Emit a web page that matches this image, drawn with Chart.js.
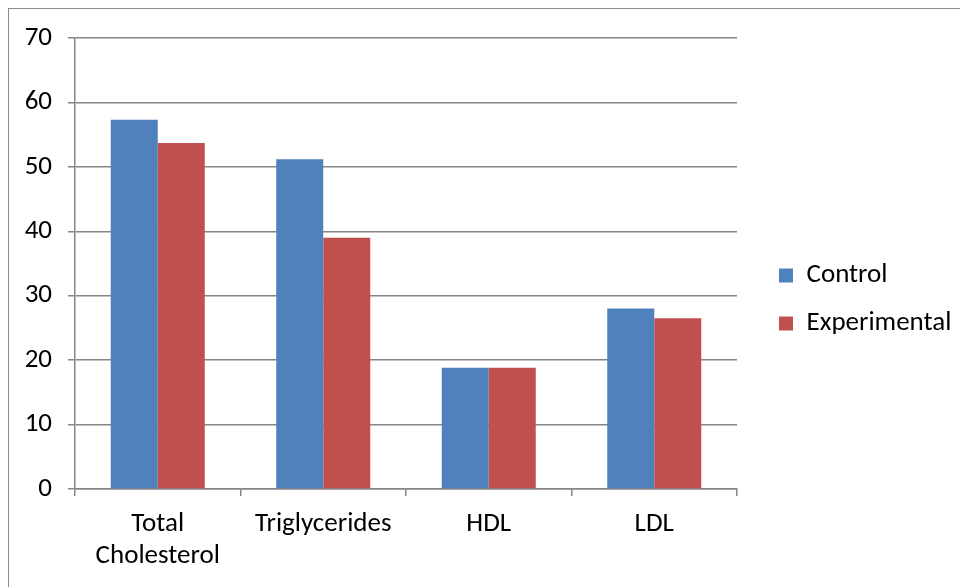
<!DOCTYPE html>
<html>
<head>
<meta charset="utf-8">
<script src="https://cdn.jsdelivr.net/npm/chart.js@4.4.0/dist/chart.umd.min.js"></script>
<style>
  body { margin: 0; background: #fff; }
  #wrap { position: relative; width: 960px; height: 587px; overflow: hidden; }
  #frame { position: absolute; left: 8px; top: 8px; width: 1000px; height: 700px;
           border: 1.5px solid #8c8c8c; box-sizing: border-box; pointer-events: none; }
  canvas { position: absolute; left: 0; top: 0; }
</style>
</head>
<body>
<div id="wrap">
  <canvas id="barChart" width="960" height="587"></canvas>
  <div id="frame"></div>
</div>
<script>
const categories = [['Total', 'Cholesterol'], 'Triglycerides', 'HDL', 'LDL'];
const controlValues = [57.3, 51.2, 18.8, 28.0];
const experimentalValues = [53.7, 39.0, 18.8, 26.5];
const yTicks = [0, 10, 20, 30, 40, 50, 60, 70];

function drawChart() {
    const gridColor = '#868686';
    const fontFamily = 'Carlito, Lato, sans-serif';
    const fontSize = 27;
    const plotRight = 737;
    const legendShift = 21; // gap between plot and legend boxes

    const barChartData = {
        labels: categories,
        datasets: [{
            label: 'Control',
            data: controlValues,
            backgroundColor: '#4F81BD',
            borderWidth: 0,
        }, {
            label: 'Experimental',
            data: experimentalValues,
            backgroundColor: '#C0504D',
            borderWidth: 0,
        }]
    };

    // fix the plot's right edge and move the legend items over a bit
    const legendPlacer = {
        id: 'legendPlacer',
        afterLayout(chart) {
            const lg = chart.legend;
            const dx = plotRight + legendShift - lg.left;
            lg.left += dx;
            lg.right += dx;
        }
    };

    const barChartOptions = {
        responsive: false,
        animation: false,
        events: [],
        categoryPercentage: 0.568,
        barPercentage: 1.0,
        layout: {
            padding: { top: 12, left: 0, right: 0, bottom: 0 }
        },
        plugins: {
            tooltip: { enabled: false },
            legend: {
                position: 'right',
                labels: {
                    boxWidth: 14,
                    boxHeight: 14,
                    padding: 21,
                    color: '#000',
                    font: { family: fontFamily, size: fontSize }
                }
            }
        },
        scales: {
            x: {
                grid: {
                    offset: true,
                    drawOnChartArea: false,
                    color: gridColor,
                    lineWidth: 1.5,
                    tickLength: 7,
                },
                border: { color: gridColor, width: 1.5 },
                ticks: {
                    color: '#000',
                    padding: 12,
                    maxRotation: 0,
                    font: { family: fontFamily, size: fontSize, lineHeight: 1.2 }
                },
                afterFit(scale) { scale.height = 98; }
            },
            topSpace: {
                type: 'category',
                position: 'top',
                display: true,
                grid: { display: false },
                border: { display: false },
                ticks: { display: false },
                afterFit(scale) { scale.height = 26; }
            },
            y: {
                min: 0,
                max: 70,
                afterBuildTicks(scale) { scale.ticks = yTicks.map(v => ({ value: v })); },
                grid: {
                    color: gridColor,
                    lineWidth: 1.5,
                    tickLength: 7,
                },
                border: { color: gridColor, width: 1.5 },
                ticks: {
                    color: '#000',
                    padding: 16,
                    font: { family: fontFamily, size: fontSize }
                },
                afterFit(scale) { scale.width = 75; }
            }
        }
    };

    const chart = new Chart(document.getElementById('barChart').getContext('2d'), {
        type: 'bar',
        data: barChartData,
        options: barChartOptions,
        plugins: [legendPlacer],
    });

    // pad the right side so the plot ends where the reference plot ends
    const extra = 960 - chart.legend.width - plotRight;
    chart.options.layout.padding.right = extra;
    chart.update();
}

document.addEventListener('DOMContentLoaded', function() {
    Promise.all([
        document.fonts.load('27px Carlito'),
        document.fonts.load('27px Lato')
    ]).catch(() => {}).then(drawChart);
});
</script>
</body>
</html>
